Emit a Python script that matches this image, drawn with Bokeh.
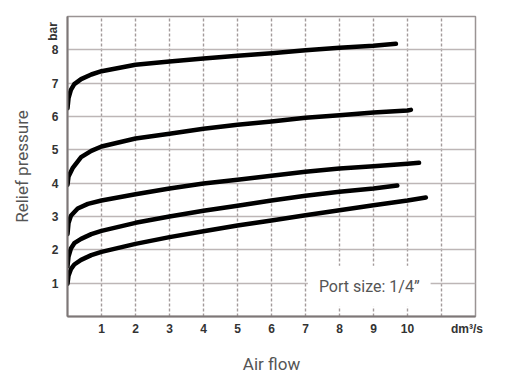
from bokeh.plotting import figure
from bokeh.models import FixedTicker, Label, Range1d, LinearAxis
from bokeh.embed import file_html
from bokeh.resources import INLINE
import math

# ---- data ----
x_ticks = [1, 2, 3, 4, 5, 6, 7, 8, 9, 10]
x_grid = [1, 2, 3, 4, 5, 6, 7, 8, 9, 10, 11]
y_ticks = [1, 2, 3, 4, 5, 6, 7, 8]
unit_x_pos = 11.75
unit_y_pos = 8.83
x_unit_label = "dm³/s"
y_unit_label = "bar"

curve1_x = [0, 0.03, 0.1, 0.2, 0.4, 0.7, 1, 2, 3, 4, 5, 6, 7, 8, 9, 9.66]
curve1_y = [6.25, 6.55, 6.8, 6.97, 7.12, 7.26, 7.36, 7.55, 7.65, 7.74, 7.82, 7.9, 7.99, 8.06, 8.12, 8.18]

curve2_x = [0, 0.03, 0.15, 0.4, 0.7, 1, 2, 3, 4, 5, 6, 7, 8, 9, 10, 10.1]
curve2_y = [3.95, 4.2, 4.45, 4.78, 4.97, 5.1, 5.34, 5.48, 5.63, 5.75, 5.85, 5.96, 6.04, 6.12, 6.18, 6.2]

curve3_x = [0, 0.03, 0.1, 0.3, 0.6, 1, 2, 3, 4, 5, 6, 7, 8, 9, 10, 10.34]
curve3_y = [2.47, 2.8, 3.02, 3.24, 3.38, 3.48, 3.67, 3.84, 3.99, 4.1, 4.22, 4.34, 4.44, 4.51, 4.58, 4.61]

curve4_x = [0, 0.03, 0.1, 0.2, 0.4, 0.7, 1, 2, 3, 4, 5, 6, 7, 8, 9, 9.7]
curve4_y = [1.51, 1.8, 2.04, 2.2, 2.33, 2.47, 2.57, 2.81, 3.0, 3.17, 3.32, 3.48, 3.62, 3.74, 3.84, 3.93]

curve5_x = [0, 0.03, 0.1, 0.2, 0.4, 0.7, 1, 2, 3, 4, 5, 6, 7, 8, 9, 10, 10.54]
curve5_y = [0.98, 1.22, 1.42, 1.56, 1.7, 1.84, 1.94, 2.18, 2.38, 2.56, 2.73, 2.88, 3.04, 3.19, 3.34, 3.48, 3.57]

curves = [(curve1_x, curve1_y), (curve2_x, curve2_y), (curve3_x, curve3_y),
          (curve4_x, curve4_y), (curve5_x, curve5_y)]

port_text = "Port size: 1/4”"

# ---- figure ----
p = figure(width=505, height=376, output_backend="svg", toolbar_location=None,
           x_range=Range1d(0, 12), y_range=Range1d(0, 9.0),
           min_border_left=67, min_border_right=30, min_border_top=16, min_border_bottom=48,
           x_axis_label="Air flow")
p.background_fill_color = "white"
p.border_fill_color = "white"
p.outline_line_color = "#9a9494"
p.outline_line_width = 1.5

# grids
p.xgrid.ticker = FixedTicker(ticks=x_grid)
p.ygrid.ticker = FixedTicker(ticks=y_ticks)
p.xgrid.grid_line_color = "#a39b9b"
p.xgrid.grid_line_width = 1.4
p.xgrid.grid_line_dash = "3 2"
p.ygrid.grid_line_color = "#bdb6b6"
p.ygrid.grid_line_width = 1.6

# second left axis carrying the "bar" unit and the axis title
bar_axis = LinearAxis(ticker=FixedTicker(ticks=[unit_y_pos]),
                      major_label_overrides={unit_y_pos: y_unit_label},
                      axis_label="Relief pressure")
p.add_layout(bar_axis, "left")

tick_font = "Liberation Sans"
p.xaxis.ticker = FixedTicker(ticks=x_ticks + [unit_x_pos])
p.xaxis.major_label_overrides = {unit_x_pos: x_unit_label}
p.yaxis[0].ticker = FixedTicker(ticks=y_ticks)
for ax in (p.xaxis[0], p.yaxis[0], bar_axis):
    ax.axis_line_color = "#7d7777"
    ax.axis_line_width = 2
    ax.major_tick_line_color = None
    ax.minor_tick_line_color = None
    ax.major_tick_out = 0
    ax.major_tick_in = 0
    ax.major_label_text_font = tick_font
    ax.major_label_text_font_style = "bold"
    ax.major_label_text_font_size = "12px"
    ax.major_label_text_color = "#333333"
    ax.axis_label_text_font = "Roboto"
    ax.axis_label_text_font_style = "normal"
    ax.axis_label_text_font_size = "17px"
    ax.axis_label_text_color = "#555555"
bar_axis.axis_line_color = None
bar_axis.major_label_orientation = math.pi / 2
bar_axis.major_label_standoff = -5
bar_axis.axis_label_standoff = 5

p.xaxis.major_label_standoff = 5
p.xaxis.axis_label_standoff = 15
p.yaxis[0].major_label_standoff = 9
p.yaxis[0].major_label_orientation = "horizontal"

# curves
for cx, cy in curves:
    p.line(cx, cy, line_color="black", line_width=4.5, line_cap="round", line_join="round")

# port size label with white box
p.add_layout(Label(x=7.07, y=0.91, text=port_text, text_align="left", text_baseline="middle",
                   text_font="Roboto", text_font_size="16px", text_color="#555555",
                   background_fill_color="white", background_fill_alpha=1.0,
                   padding=11))

open("out.html", "w").write(file_html(p, INLINE))
